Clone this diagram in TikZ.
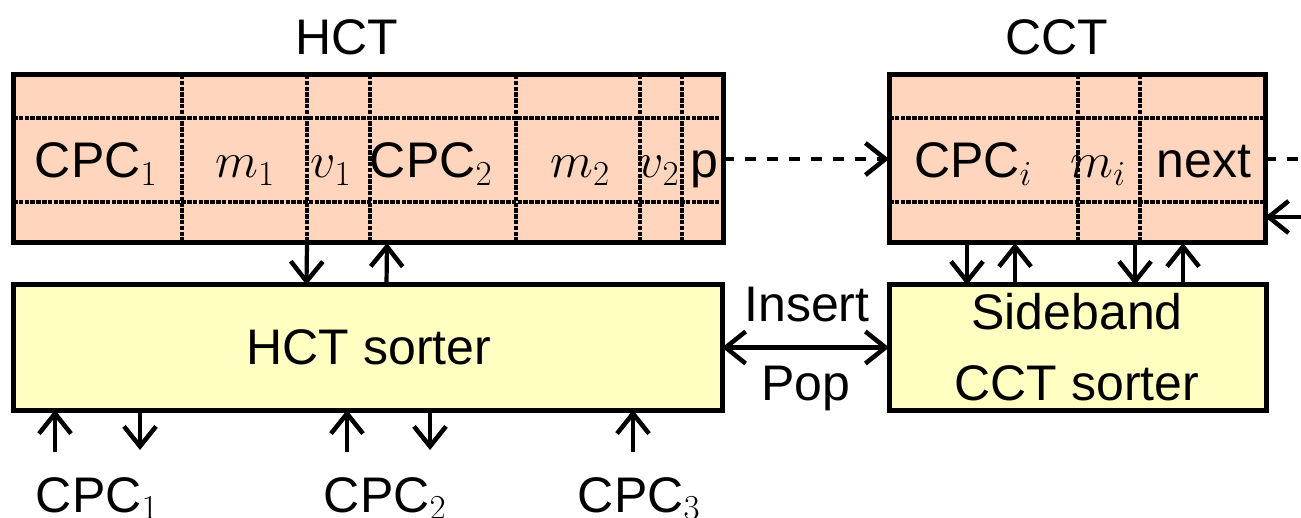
\RequirePackage{fix-cm}
\documentclass[tikz,border=0pt]{standalone}
\usepackage{fontspec}
\setmainfont{Liberation Sans}
\usetikzlibrary{arrows.meta}
\definecolor{peach}{RGB}{255,213,190}
\definecolor{paleyel}{RGB}{255,255,194}
\begin{document}
\begin{tikzpicture}[x=1pt,y=-1pt,
 tip/.tip={Straight Barb[length=20pt,width=32pt,line width=4.5pt]},
 tbl/.style={fill=peach,inner sep=0pt,outer sep=0pt},
 sorter/.style={draw,line width=5pt,fill=paleyel,inner sep=0pt,outer sep=0pt},
 border/.style={line width=5pt},
 gridline/.style={line width=4pt,dash pattern=on 4.5pt off 1.3pt},
 arr/.style={line width=4.2pt,-tip},
 dasharr/.style={line width=4.2pt,dash pattern=on 11pt off 11pt},
 txt/.style={font=\fontsize{50}{60}\selectfont,inner sep=0pt,anchor=base},
]
\useasboundingbox (0,0) rectangle (1301,518);
% tables
\node[tbl,minimum width=710pt,minimum height=168pt] (hct) at (368,159) {};
\node[tbl,minimum width=376pt,minimum height=168pt] (cct) at (1077,159) {};
% grid lines HCT
\foreach \y in {118,202} \draw[gridline] (13,\y) -- (723,\y);
\foreach \x in {182,307,370,516,640,682} \draw[gridline] (\x,75) -- (\x,243);
% grid lines CCT
\foreach \y in {118,202} \draw[gridline] (889,\y) -- (1265,\y);
\foreach \x in {1078,1140} \draw[gridline] (\x,75) -- (\x,243);
\draw[border] (hct.north west) rectangle (hct.south east);
\draw[border] (cct.north west) rectangle (cct.south east);
% titles
\node[txt] (thct) at (347,55) {HCT};
\node[txt] (tcct) at (1057,55) {CCT};
% cell texts
\node[txt] (c1) at (96,178) {CPC$_1$};
\node[txt] (m1) at (245,178) {$m_1$};
\node[txt] (v1) at (331,178) {$v_1$};
\node[txt] (c2) at (431,178) {CPC$_2$};
\node[txt] (m2) at (580,178) {$m_2$};
\node[txt] (v2) at (659,178) {$v_2$};
\node[txt] (pp) at (704,178) {p};
\node[txt] (ci) at (973,178) {CPC$_i$};
\node[txt] (mi) at (1098,178) {$m_i$};
\node[txt] (nx) at (1204,178) {next};
% sorters
\node[sorter,minimum width=709pt,minimum height=125pt] (hsort) at (367.5,347.5) {};
\node[sorter,minimum width=377pt,minimum height=125pt] (csort) at (1077.5,347.5) {};
\node[txt] (hst) at (369,365) {HCT sorter};
\node[txt] (cs1) at (1077,330) {Sideband};
\node[txt] (cs2) at (1077,400) {CCT sorter};
% insert/pop
\draw[line width=4.2pt,tip-tip] (hsort.east) -- (csort.west);
\node[txt] (ins) at (807,322) {Insert};
\node[txt] (pop) at (806,400) {Pop};
% table <-> sorter arrows
\draw[arr] ([xshift=-61pt]hct.south) -- ([xshift=-61pt]hsort.north);
\draw[arr] ([xshift=19pt]hsort.north) -- ([xshift=19pt]hct.south);
\draw[arr] ([xshift=-110pt]cct.south) -- ([xshift=-110.5pt]csort.north);
\draw[arr] ([xshift=-62.5pt]csort.north) -- ([xshift=-62pt]cct.south);
\draw[arr] ([xshift=58pt]cct.south) -- ([xshift=57.5pt]csort.north);
\draw[arr] ([xshift=105.5pt]csort.north) -- ([xshift=106pt]cct.south);
% linked list arrows
\draw[dasharr,-tip] (hct.east) -- (cct.west);
\coordinate (rout) at (1301,159);
\draw[dasharr] (cct.east) -- (rout);
\coordinate (rin) at (1301,217);
\draw[arr] (rin) -- (cct.east |- rin);
% bottom arrows
\coordinate (b1) at (55,452);
\coordinate (b2) at (140,450);
\coordinate (b3) at (347,452);
\coordinate (b4) at (430,450);
\coordinate (b5) at (633,452);
\draw[arr] (b1) -- (b1 |- hsort.south);
\draw[arr] (b2 |- hsort.south) -- (b2);
\draw[arr] (b3) -- (b3 |- hsort.south);
\draw[arr] (b4 |- hsort.south) -- (b4);
\draw[arr] (b5) -- (b5 |- hsort.south);
\node[txt] (l1) at (97,512) {CPC$_1$};
\node[txt] (l2) at (385,512) {CPC$_2$};
\node[txt] (l3) at (639,512) {CPC$_3$};
\end{tikzpicture}
\end{document}
